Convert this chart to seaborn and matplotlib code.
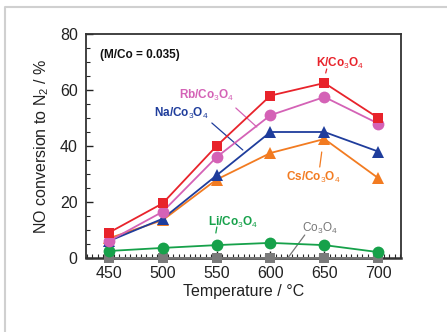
import matplotlib
matplotlib.use("Agg")
import matplotlib.pyplot as plt
import seaborn as sns
import numpy as np
import pandas as pd
from matplotlib.ticker import MultipleLocator
from matplotlib.lines import Line2D

sns.set_theme(style="white")
plt.rcParams['font.family'] = ['Liberation Sans', 'DejaVu Sans']
plt.rcParams['mathtext.fontset'] = 'custom'
plt.rcParams['mathtext.rm'] = 'Liberation Sans'
plt.rcParams['mathtext.it'] = 'Liberation Sans:italic'
plt.rcParams['mathtext.bf'] = 'Liberation Sans:bold'

temperature = [450, 500, 550, 600, 650, 700]
k_co3o4 = [9, 19.5, 40, 58, 62.5, 50]
rb_co3o4 = [6, 16.5, 36, 51, 57.5, 48]
na_co3o4 = [6, 14, 29.5, 45, 45, 38]
cs_co3o4 = [7, 13.5, 28, 37.5, 42.5, 28.5]
li_co3o4 = [2.5, 3.6, 4.6, 5.4, 4.6, 2.1]
co3o4 = [0, 0, 0, 0, 0, 0]

series = [
    ("Co3O4", co3o4, "#7a7a7a", "s", 6.5),
    ("Li", li_co3o4, "#16a14a", "o", 8.5),
    ("Cs", cs_co3o4, "#f27b21", "^", 8.5),
    ("Na", na_co3o4, "#1f3d9c", "^", 8.5),
    ("Rb", rb_co3o4, "#d462b6", "o", 8.5),
    ("K", k_co3o4, "#e8232b", "s", 7.5),
]

fig = plt.figure(figsize=(4.47, 3.32), dpi=100)
ax = fig.add_axes([86/447, 1-258/332, (401-86)/447, (258-34)/332])

for name, vals, col, mk, ms in series:
    df = pd.DataFrame({"T": temperature, "v": vals})
    sns.lineplot(data=df, x="T", y="v", ax=ax, color=col, marker=mk,
                 markersize=ms, markeredgewidth=0, linewidth=1.3,
                 clip_on=False, zorder=3)

ax.set_xlim(429, 721)
ax.set_ylim(0, 80)
ax.set_xticks(temperature)
ax.set_yticks([0, 20, 40, 60, 80])
ax.xaxis.set_minor_locator(MultipleLocator(5))
ax.yaxis.set_minor_locator(MultipleLocator(5))
ax.tick_params(axis='both', which='major', direction='in', length=5, width=1,
               labelsize=11.5, colors='#222222', pad=6, bottom=True, left=True)
ax.tick_params(axis='both', which='minor', direction='in', length=3, width=0.8,
               bottom=True, left=True)
for s in ax.spines.values():
    s.set_color('#333333')
    s.set_linewidth(1.3)
ax.spines['bottom'].set_linewidth(1.8)
ax.set_xlabel("Temperature / °C", fontsize=11.5, color='#222222', labelpad=2)
ax.set_ylabel("NO conversion to N$_2$ / %", fontsize=11.5, color='#222222', labelpad=6)

ax.text(442, 72.5, "(M/Co = 0.035)", fontsize=8.5, fontweight='bold',
        color='#111111', ha='left', va='center')

def lab(txt, x, y, col, line=None):
    ax.text(x, y, txt, fontsize=8.5, fontweight='bold', color=col,
            ha='center', va='center')
    if line is not None:
        ax.plot(line[0], line[1], color=col, lw=0.9, zorder=2)

xs = lambda px: 429 + (px - 86) / 1.08
ys = lambda py: (258 - py) / 2.8

lab("K/Co$_3$O$_4$", xs(340), ys(63), "#e8232b", ([xs(327), xs(326)], [ys(69), ys(73)]))
lab("Rb/Co$_3$O$_4$", xs(207), ys(95), "#d462b6", ([xs(236), xs(257)], [ys(108), ys(127)]))
lab("Na/Co$_3$O$_4$", xs(181), ys(113), "#1f3d9c", ([xs(212), xs(243)], [ys(123), ys(150)]))
lab("Cs/Co$_3$O$_4$", xs(314), ys(177), "#f27b21", ([xs(322), xs(320)], [ys(152), ys(167)]))
lab("Li/Co$_3$O$_4$", xs(233), ys(222), "#16a14a", ([xs(217), xs(216)], [ys(227), ys(233)]))
ax.text(xs(320), ys(228), "Co$_3$O$_4$", fontsize=8.5, color='#777777',
        ha='center', va='center')
ax.plot([xs(305), xs(288)], [ys(235), ys(258)], color='#777777', lw=0.9, zorder=2)

fig.add_artist(Line2D([5/447, 5/447, 1], [0, 1-7/332, 1-7/332],
                      transform=fig.transFigure, color='#d0d0d0', lw=1.5))

fig.savefig("out.png", dpi=100)
